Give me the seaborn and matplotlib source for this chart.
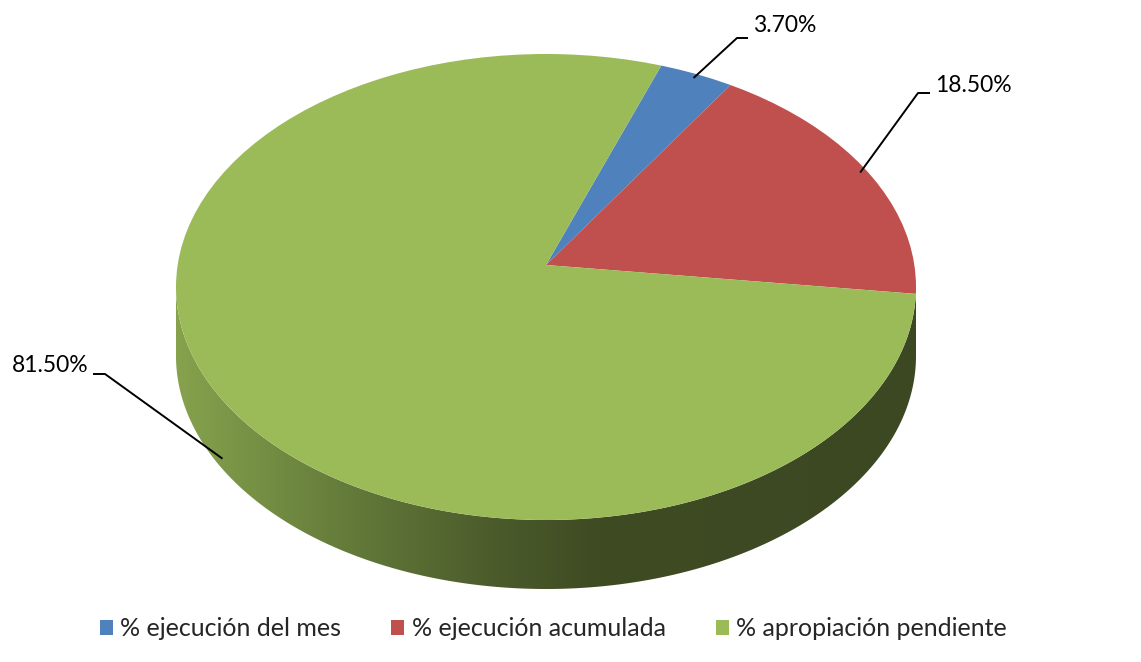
import numpy as np
import matplotlib
matplotlib.use("Agg")
import matplotlib.pyplot as plt
import seaborn as sns
from matplotlib.patches import Patch, PathPatch, Circle
from matplotlib.path import Path
from matplotlib.colors import LinearSegmentedColormap

# ---- data ----
categories = ["% ejecución del mes", "% ejecución acumulada", "% apropiación pendiente"]
values = [3.70, 18.50, 81.50]
value_labels = ["3.70%", "18.50%", "81.50%"]
colors = ["#4F81BD", "#C0504D", "#9BBB59"]

sns.set_theme(style="white")
plt.rcParams["font.family"] = ["Lato", "DejaVu Sans"]

W, H = 1141, 662
cx, cy, rx, ry = 546, 287, 370, 233     # ellipse layout in pixels
depth = 69 / ry                          # thickness of the 3D side (data units)
apex_h = 22 / ry                         # perspective: apex sits above the ellipse centre
START = 70

def px(x, y):
    """pixel position -> data coordinates of the pie axes"""
    return (x - cx) / rx, (cy - y) / ry

fig = plt.figure(figsize=(W / 100, H / 100), dpi=100)
ax = fig.add_axes([0, 0, 1, 1])

# ---- side of the 3D pie (gradient band) ----
theta = np.linspace(np.pi, 2 * np.pi, 300)
top = np.column_stack([np.cos(theta), np.sin(theta)])
bot = np.column_stack([np.cos(theta[::-1]), np.sin(theta[::-1]) - depth])
verts = np.vstack([top, bot, top[:1]])
band = PathPatch(Path(verts, closed=True), facecolor="none", edgecolor="none")
ax.add_patch(band)
cmap = LinearSegmentedColormap.from_list(
    "side",
    [(0.0, "#86a24d"), (0.23, "#647b3a"), (0.43, "#4b5b2b"),
     (0.57, "#3f4b23"), (1.0, "#3c4822")])
grad = np.linspace(0, 1, 512)[None, :]
im = ax.imshow(grad, cmap=cmap, extent=[-1, 1, -1 - depth, 0.05],
               aspect="auto", zorder=1, interpolation="bilinear")
im.set_clip_path(band)

# ---- top face (wedges from a raised apex, clipped to the ellipse) ----
face = Circle((0, 0), 1.0, facecolor="none", edgecolor="none")
ax.add_patch(face)
wedges, _ = ax.pie(values, colors=colors, startangle=START, counterclock=False,
                   radius=1.4, center=(0, apex_h),
                   wedgeprops=dict(linewidth=0))
for w in wedges:
    w.set_zorder(2)
    w.set_clip_on(True)
    w.set_clip_path(face)

# ---- data labels with leader lines ----
total = sum(values)
angles = []
a = float(START)
for v in values:
    span = 360 * v / total
    angles.append(np.deg2rad(a - span / 2))
    a -= span

# label layout: (elbow, stub end, text position, text ha) in pixels
layout = [
    ((737, 38), (748, 38), (753, 25), "left"),
    ((918, 93), (930, 93), (935, 85), "left"),
    ((105, 374), (93, 374), (88, 366), "right"),
]
for i, (lab, ang) in enumerate(zip(value_labels, angles)):
    c, s = np.cos(ang), np.sin(ang)
    t = -apex_h * s + np.sqrt((apex_h * s) ** 2 - apex_h ** 2 + 1)
    t *= 0.98
    ax_x, ax_y = c * t, apex_h + s * t
    if ax_y < 0:
        ax_y -= depth * 1.0
    elbow, stub, tpos, ha = layout[i]
    ex, ey = px(*elbow)
    sx, sy = px(*stub)
    ax.plot([ax_x, ex, sx], [ax_y, ey, sy], color="black", lw=1.4,
            zorder=3, solid_capstyle="butt")
    tx, ty = px(*tpos)
    ax.text(tx, ty, lab, ha=ha, va="center", fontsize=16.5, color="black",
            zorder=4)

ax.set_xlim(-cx / rx, (W - cx) / rx)
ax.set_ylim(-(H - cy) / ry, cy / ry)
ax.set_aspect("auto")
ax.axis("off")

handles = [Patch(facecolor=c, edgecolor="none") for c in colors]
fig.legend(handles, categories, loc="center", bbox_to_anchor=(0.485, 0.05),
           ncol=3, frameon=False, fontsize=18, handlelength=0.52,
           handleheight=0.58, handletextpad=0.3, columnspacing=2.0)

fig.savefig("out.png", dpi=100)
